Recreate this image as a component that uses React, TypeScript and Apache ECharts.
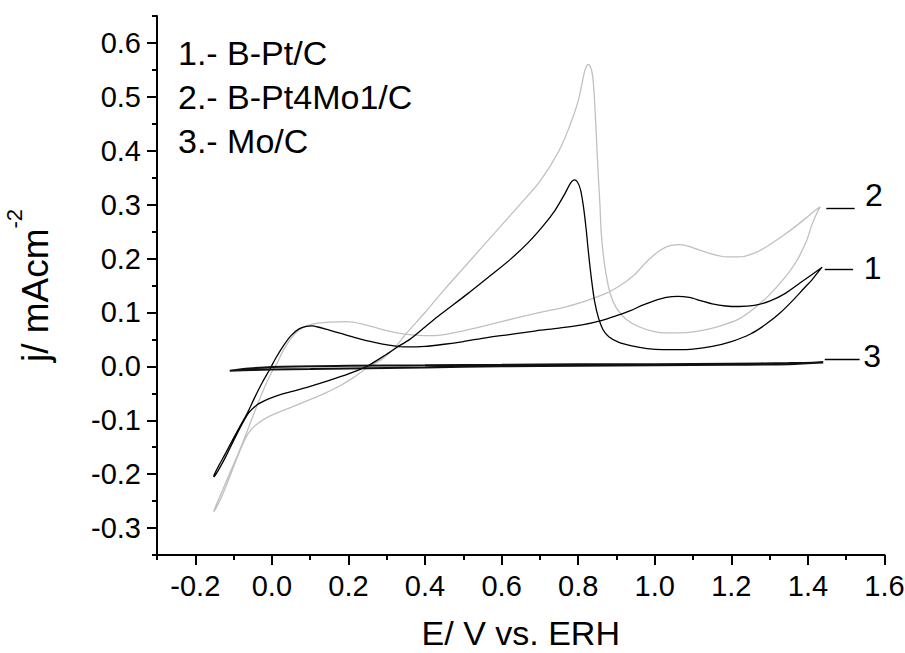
import React, { useEffect, useRef } from "react";
import * as echarts from "echarts";

const FONT = '"Liberation Sans", Arial, Helvetica, sans-serif';

// Axis ticks
const xMajorTicks = [-0.2, 0.0, 0.2, 0.4, 0.6, 0.8, 1.0, 1.2, 1.4, 1.6];
const xMinorTicks = [-0.3, -0.1, 0.1, 0.3, 0.5, 0.7, 0.9, 1.1, 1.3, 1.5];
const yMajorTicks = [-0.3, -0.2, -0.1, 0.0, 0.1, 0.2, 0.3, 0.4, 0.5, 0.6];
const yMinorTicks = [-0.35, -0.25, -0.15, -0.05, 0.05, 0.15, 0.25, 0.35, 0.45, 0.55, 0.65];

// Legend text block
const legendLines = ["1.- B-Pt/C", "2.- B-Pt4Mo1/C", "3.- Mo/C"];

// Curve 1: B-Pt/C (black)
const ptE = [
  -0.152, -0.150, -0.140, -0.120, -0.100, -0.080, -0.065, -0.045, -0.025, -0.005,
  0.010, 0.030, 0.050, 0.070, 0.090, 0.105, 0.120, 0.150, 0.180, 0.220,
  0.265, 0.310, 0.352, 0.400, 0.450, 0.500, 0.550, 0.620, 0.690, 0.750,
  0.810, 0.860, 0.900, 0.935, 0.970, 1.000, 1.030, 1.060, 1.090, 1.120,
  1.150, 1.185, 1.220, 1.260, 1.300, 1.340, 1.380, 1.410, 1.430, 1.437,
  1.430, 1.410, 1.390, 1.360, 1.327, 1.290, 1.250, 1.200, 1.150, 1.100,
  1.060, 1.020, 0.980, 0.940, 0.905, 0.880, 0.865, 0.853, 0.843, 0.835,
  0.827, 0.820, 0.813, 0.806, 0.798, 0.790, 0.780, 0.765, 0.740, 0.710,
  0.670, 0.622, 0.570, 0.510, 0.440, 0.400, 0.360, 0.326, 0.290, 0.248,
  0.200, 0.150, 0.100, 0.050, 0.020, 0.000, -0.020, -0.040, -0.060, -0.080,
  -0.100, -0.120, -0.140, -0.150, -0.152,
];
const ptJ = [
  -0.205, -0.200, -0.186, -0.160, -0.133, -0.107, -0.088, -0.058, -0.030, -0.005,
  0.015, 0.038, 0.057, 0.069, 0.074, 0.075, 0.073, 0.067, 0.061, 0.053,
  0.045, 0.039, 0.036, 0.037, 0.041, 0.046, 0.052, 0.059, 0.066, 0.071,
  0.077, 0.085, 0.094, 0.103, 0.114, 0.122, 0.128, 0.130, 0.128, 0.122,
  0.116, 0.112, 0.111, 0.113, 0.121, 0.135, 0.155, 0.170, 0.180, 0.184,
  0.178, 0.160, 0.145, 0.122, 0.099, 0.078, 0.060, 0.046, 0.037, 0.032,
  0.031, 0.031, 0.033, 0.038, 0.045, 0.055, 0.068, 0.090, 0.120, 0.160,
  0.210, 0.260, 0.300, 0.328, 0.342, 0.346, 0.340, 0.320, 0.290, 0.262,
  0.230, 0.198, 0.168, 0.134, 0.096, 0.073, 0.050, 0.035, 0.018, 0.000,
  -0.014, -0.026, -0.037, -0.047, -0.053, -0.058, -0.064, -0.072, -0.086, -0.110,
  -0.138, -0.167, -0.193, -0.204, -0.205,
];

// Curve 2: B-Pt4Mo1/C (grey)
const ptMoE = [
  -0.152, -0.148, -0.135, -0.120, -0.100, -0.080, -0.060, -0.040, -0.020, 0.000,
  0.013, 0.030, 0.050, 0.070, 0.095, 0.120, 0.150, 0.195, 0.240, 0.280,
  0.320, 0.360, 0.405, 0.440, 0.500, 0.560, 0.639, 0.700, 0.770, 0.830,
  0.874, 0.910, 0.944, 0.980, 1.013, 1.040, 1.066, 1.100, 1.150, 1.190,
  1.222, 1.260, 1.292, 1.330, 1.361, 1.395, 1.420, 1.432,
  1.425, 1.410, 1.396, 1.370, 1.340, 1.300, 1.260, 1.220, 1.180, 1.140,
  1.100, 1.066, 1.030, 0.996, 0.960, 0.926, 0.900, 0.883, 0.872, 0.866,
  0.860, 0.857, 0.852, 0.848, 0.843, 0.838, 0.832, 0.826, 0.818, 0.810,
  0.800, 0.780, 0.750, 0.700, 0.650, 0.600, 0.550, 0.500, 0.450, 0.400,
  0.350, 0.317, 0.285, 0.248, 0.215, 0.178, 0.135,
  0.091, 0.050, 0.004, -0.020, -0.040, -0.055, -0.070, -0.090, -0.110, -0.130,
  -0.145, -0.152,
];
const ptMoJ = [
  -0.270, -0.262, -0.240, -0.215, -0.182, -0.148, -0.112, -0.075, -0.040, -0.010,
  0.005, 0.030, 0.052, 0.067, 0.076, 0.080, 0.082, 0.083, 0.078, 0.070,
  0.063, 0.059, 0.057, 0.058, 0.066, 0.076, 0.090, 0.100, 0.111, 0.124,
  0.136, 0.150, 0.168, 0.195, 0.215, 0.224, 0.226, 0.220, 0.208, 0.203,
  0.203, 0.210, 0.222, 0.240, 0.256, 0.275, 0.290, 0.296,
  0.287, 0.262, 0.232, 0.195, 0.165, 0.133, 0.108, 0.088, 0.077, 0.069,
  0.064, 0.062, 0.062, 0.065, 0.073, 0.087, 0.108, 0.136, 0.175, 0.204,
  0.250, 0.297, 0.360, 0.420, 0.490, 0.538, 0.556, 0.560, 0.550, 0.525,
  0.492, 0.450, 0.400, 0.343, 0.302, 0.262, 0.222, 0.182, 0.142, 0.100,
  0.060, 0.031, 0.012, -0.003, -0.020, -0.036, -0.051,
  -0.064, -0.076, -0.089, -0.098, -0.108, -0.118, -0.135, -0.168, -0.205, -0.240,
  -0.262, -0.270,
];

// Curve 3: Mo/C (black, flat)
const moE = [
  -0.110, -0.050, 0.000, 0.100, 0.200, 0.400, 0.600, 0.800, 1.000, 1.200, 1.350, 1.440,
  1.350, 1.200, 1.000, 0.800, 0.600, 0.400, 0.200, 0.000, -0.060, -0.110,
];
const moJ = [
  -0.008, -0.007, -0.006, -0.005, -0.004, -0.002, 0.000, 0.001, 0.002, 0.003, 0.004, 0.007,
  0.006, 0.005, 0.004, 0.004, 0.003, 0.002, 0.001, -0.001, -0.004, -0.008,
];

// Curve number annotations (data coordinates)
const curveNumbers = ["1", "2", "3"];
const numberE = [1.569, 1.572, 1.568];
const numberJ = [0.183, 0.318, 0.0186];
const leaderStartE = [1.444, 1.448, 1.444];
const leaderEndE = [1.518, 1.522, 1.535];
const leaderJ = [0.181, 0.294, 0.0124];

const pairs = (xs: number[], ys: number[]) => xs.map((x, i) => [x, ys[i]]);

export default function App() {
  const ref = useRef<HTMLDivElement>(null);

  useEffect(() => {
    if (!ref.current) return;
    const chart = echarts.init(ref.current, null, { renderer: "svg" });

    const tickLine = { color: "#000", width: 2 };
    const labelStyle = { fontSize: 29, color: "#000", fontFamily: FONT };

    chart.setOption({
      animation: false,
      backgroundColor: "#ffffff",
      grid: { left: 157, right: 20.5, top: 16, bottom: 98, containLabel: false, outerBoundsMode: "none" },
      xAxis: [
        {
          type: "value",
          min: -0.3,
          max: 1.6,
          position: "bottom",
          axisLine: { show: true, onZero: false, lineStyle: { color: "#000", width: 2 } },
          axisTick: { show: true, length: 10, customValues: xMajorTicks, lineStyle: tickLine },
          axisLabel: {
            show: true,
            customValues: xMajorTicks,
            formatter: (v: number) => v.toFixed(1),
            margin: 16,
            ...labelStyle,
          },
          splitLine: { show: false },
          name: "E/ V vs. ERH",
          nameLocation: "middle",
          nameGap: 64,
          nameTextStyle: { fontSize: 34, lineHeight: 28, color: "#000", fontFamily: FONT },
        },
        {
          type: "value",
          min: -0.3,
          max: 1.6,
          position: "bottom",
          axisLine: { show: false, onZero: false },
          axisTick: { show: true, length: 5, customValues: xMinorTicks, lineStyle: tickLine },
          axisLabel: { show: false },
          splitLine: { show: false },
        },
      ],
      yAxis: [
        {
          type: "value",
          min: -0.35,
          max: 0.65,
          position: "left",
          axisLine: { show: true, onZero: false, lineStyle: { color: "#000", width: 2 } },
          axisTick: { show: true, length: 10, customValues: yMajorTicks, lineStyle: tickLine },
          axisLabel: {
            show: true,
            customValues: yMajorTicks,
            formatter: (v: number) => v.toFixed(1),
            margin: 16,
            ...labelStyle,
          },
          splitLine: { show: false },
          name: "{a|j/ mAcm}{b|-2}",
          nameLocation: "middle",
          nameRotate: 90,
          nameGap: 103,
          nameTextStyle: {
            color: "#000",
            fontFamily: FONT,
            fontSize: 37,
            rich: {
              a: { fontSize: 37, fontFamily: FONT, color: "#000", padding: [14, 0, 0, 0] },
              b: { fontSize: 22, fontFamily: FONT, color: "#000", verticalAlign: "top" },
            },
          },
        },
        {
          type: "value",
          min: -0.35,
          max: 0.65,
          position: "left",
          axisLine: { show: false, onZero: false },
          axisTick: { show: true, length: 5, customValues: yMinorTicks, lineStyle: tickLine },
          axisLabel: { show: false },
          splitLine: { show: false },
        },
      ],
      graphic: legendLines.map((t, i) => ({
        type: "text",
        x: 178,
        y: 53 + i * 44.2,
        silent: true,
        style: {
          text: t,
          fontSize: 34,
          fontFamily: FONT,
          fill: "#000",
          align: "left",
          verticalAlign: "middle",
        },
      })),
      series: [
        {
          name: "B-Pt4Mo1/C",
          type: "line",
          data: pairs(ptMoE, ptMoJ),
          showSymbol: false,
          symbol: "none",
          smooth: 0.3,
          lineStyle: { color: "#c0c0c0", width: 1.3 },
          z: 2,
        },
        {
          name: "B-Pt/C",
          type: "line",
          data: pairs(ptE, ptJ),
          showSymbol: false,
          symbol: "none",
          smooth: 0.3,
          lineStyle: { color: "#000", width: 1.3 },
          z: 3,
        },
        {
          name: "Mo/C",
          type: "line",
          data: pairs(moE, moJ),
          showSymbol: false,
          symbol: "none",
          smooth: 0.3,
          lineStyle: { color: "#111", width: 2 },
          z: 3,
        },
        {
          name: "numbers",
          type: "scatter",
          symbolSize: 0,
          silent: true,
          itemStyle: { opacity: 1 },
          data: curveNumbers.map((n, i) => ({ name: n, value: [numberE[i], numberJ[i]] })),
          label: {
            show: true,
            position: "inside",
            formatter: "{b}",
            fontSize: 32,
            fontFamily: FONT,
            color: "#000",
            opacity: 1,
          },
          markLine: {
            silent: true,
            symbol: ["none", "none"],
            label: { show: false },
            lineStyle: { color: "#000", width: 1.4, type: "solid", opacity: 1 },
            data: curveNumbers.map((_, i) => [
              { coord: [leaderStartE[i], leaderJ[i]] },
              { coord: [leaderEndE[i], leaderJ[i]] },
            ]),
          },
          z: 4,
        },
      ],
    });

    return () => chart.dispose();
  }, []);

  return (
    <div
      ref={ref}
      style={{ position: "fixed", left: 0, top: 0, width: 905, height: 653, background: "#fff" }}
    />
  );
}
